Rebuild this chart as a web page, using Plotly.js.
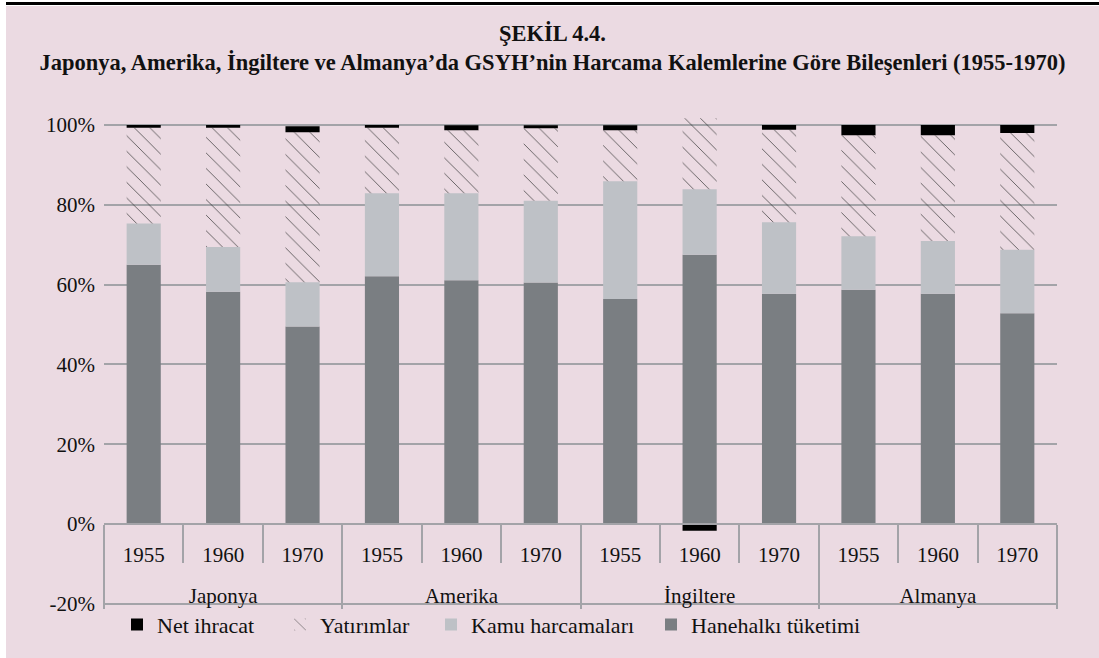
<!DOCTYPE html>
<html>
<head>
<meta charset="utf-8">
<script src="https://cdn.plot.ly/plotly-3.0.1.min.js"></script>
<style>
  html, body { margin: 0; padding: 0; background: #ffffff; width: 1099px; height: 658px; overflow: hidden; }
  #bar { position: absolute; left: 6px; top: 2px; width: 1093px; height: 3px; background: #000; }
  #chart { position: absolute; left: 6px; top: 6px; width: 1093px; height: 652px; }
</style>
</head>
<body>
<div id="bar"></div>
<div id="chart"></div>
<script>
// ---- data (percent of GDP) ----
const countries = ['Japonya','Japonya','Japonya','Amerika','Amerika','Amerika','İngiltere','İngiltere','İngiltere','Almanya','Almanya','Almanya'];
const years = ['1955','1960','1970','1955','1960','1970','1955','1960','1970','1955','1960','1970'];
const hanehalki = [65.0, 58.2, 49.5, 62.1, 61.1, 60.5, 56.4, 67.5, 57.7, 58.7, 57.7, 52.8];
const kamu      = [10.3, 11.2, 11.1, 20.8, 21.8, 20.5, 29.5, 16.4, 17.9, 13.4, 13.2, 15.9];
const yatirim   = [24.0, 29.9, 37.6, 16.4, 15.8, 18.2, 12.8, 17.8, 23.2, 25.3, 26.5, 29.3];
const netIhracat= [0.7, 0.7, 1.5, 0.7, 1.2, 0.7, 1.2, -1.7, 1.2, 2.6, 2.6, 2.0];
const yTicks = [-20, 0, 20, 40, 60, 80, 100];
const yTickText = ['-20%', '0%', '20%', '40%', '60%', '80%', '100%'];

const FONT = 'Liberation Serif, Times New Roman, serif';
const BG = '#ebdae2';
const GRID = '#a3a3a8';
// outer level label gets a leading line break so it sits in its own row below the years
const x = [countries.map(c => '<br>' + c), years];

const traces = [
  {name: 'Hanehalkı tüketimi', y: hanehalki, marker: {color: '#7a7e82'}, legend: 'legend4'},
  {name: 'Kamu harcamaları', y: kamu, marker: {color: '#bec1c6'}, legend: 'legend3'},
  {name: 'Yatırımlar', y: yatirim, marker: {color: 'rgba(0,0,0,0)', pattern: {shape: '\\', fgcolor: '#333', fgopacity: 0.8, bgcolor: 'rgba(0,0,0,0)', size: 11, solidity: 0.08}}, legend: 'legend2'},
  {name: 'Net ihracat', y: netIhracat, marker: {color: '#000000'}, legend: 'legend'}
].map(t => Object.assign({type: 'bar', x: x, hoverinfo: 'skip'}, t));

const yMin = -20.3, yMax = 103;
const PLOT_L = 98, PLOT_W = 1093 - 98 - 42;
function legendAt(px) {
  return {
    orientation: 'h', x: (px - PLOT_L) / PLOT_W, xanchor: 'left', y: -0.04, yanchor: 'middle',
    font: {family: FONT, size: 22, color: '#111'}, bgcolor: 'rgba(0,0,0,0)', itemwidth: 30
  };
}
const layout = {
  width: 1093, height: 652,
  paper_bgcolor: BG, plot_bgcolor: BG,
  margin: {l: PLOT_L, r: 42, t: 107, b: 45},
  barmode: 'relative', bargap: 0.57,
  font: {family: FONT, size: 21, color: '#111'},
  title: {
    text: '<b>ŞEKİL 4.4.</b><br><b>Japonya, Amerika, İngiltere ve Almanya’da GSYH’nin Harcama Kalemlerine Göre Bileşenleri (1955-1970)</b>',
    font: {family: FONT, size: 22.5, color: '#111'},
    x: 0.5, xanchor: 'center', y: 0.946, yanchor: 'top', yref: 'container'
  },
  xaxis: {
    type: 'multicategory',
    anchor: 'free', position: (0 - yMin) / (yMax - yMin),
    showline: true, linecolor: GRID, linewidth: 2,
    ticks: 'outside', tickson: 'boundaries', ticklen: 38, tickcolor: GRID, tickwidth: 2,
    ticklabelstandoff: 12,
    showdividers: true, dividercolor: GRID, dividerwidth: 2,
    tickfont: {family: FONT, size: 21, color: '#111'},
    showgrid: false, zeroline: false
  },
  yaxis: {
    range: [yMin, yMax], tickmode: 'array', tickvals: yTicks, ticktext: yTickText,
    showgrid: true, gridcolor: GRID, gridwidth: 2,
    zeroline: false, showline: false, ticks: '', ticklabelstandoff: 8,
    tickfont: {family: FONT, size: 21, color: '#111'}
  },
  // page x of each legend block (chart div is offset 6px)
  legend: legendAt(117 - 6),
  legend2: legendAt(280 - 6),
  legend3: legendAt(431 - 6),
  legend4: legendAt(651 - 6),
  showlegend: true
};

Plotly.newPlot('chart', traces, layout, {displayModeBar: false, staticPlot: true});
</script>
</body>
</html>
